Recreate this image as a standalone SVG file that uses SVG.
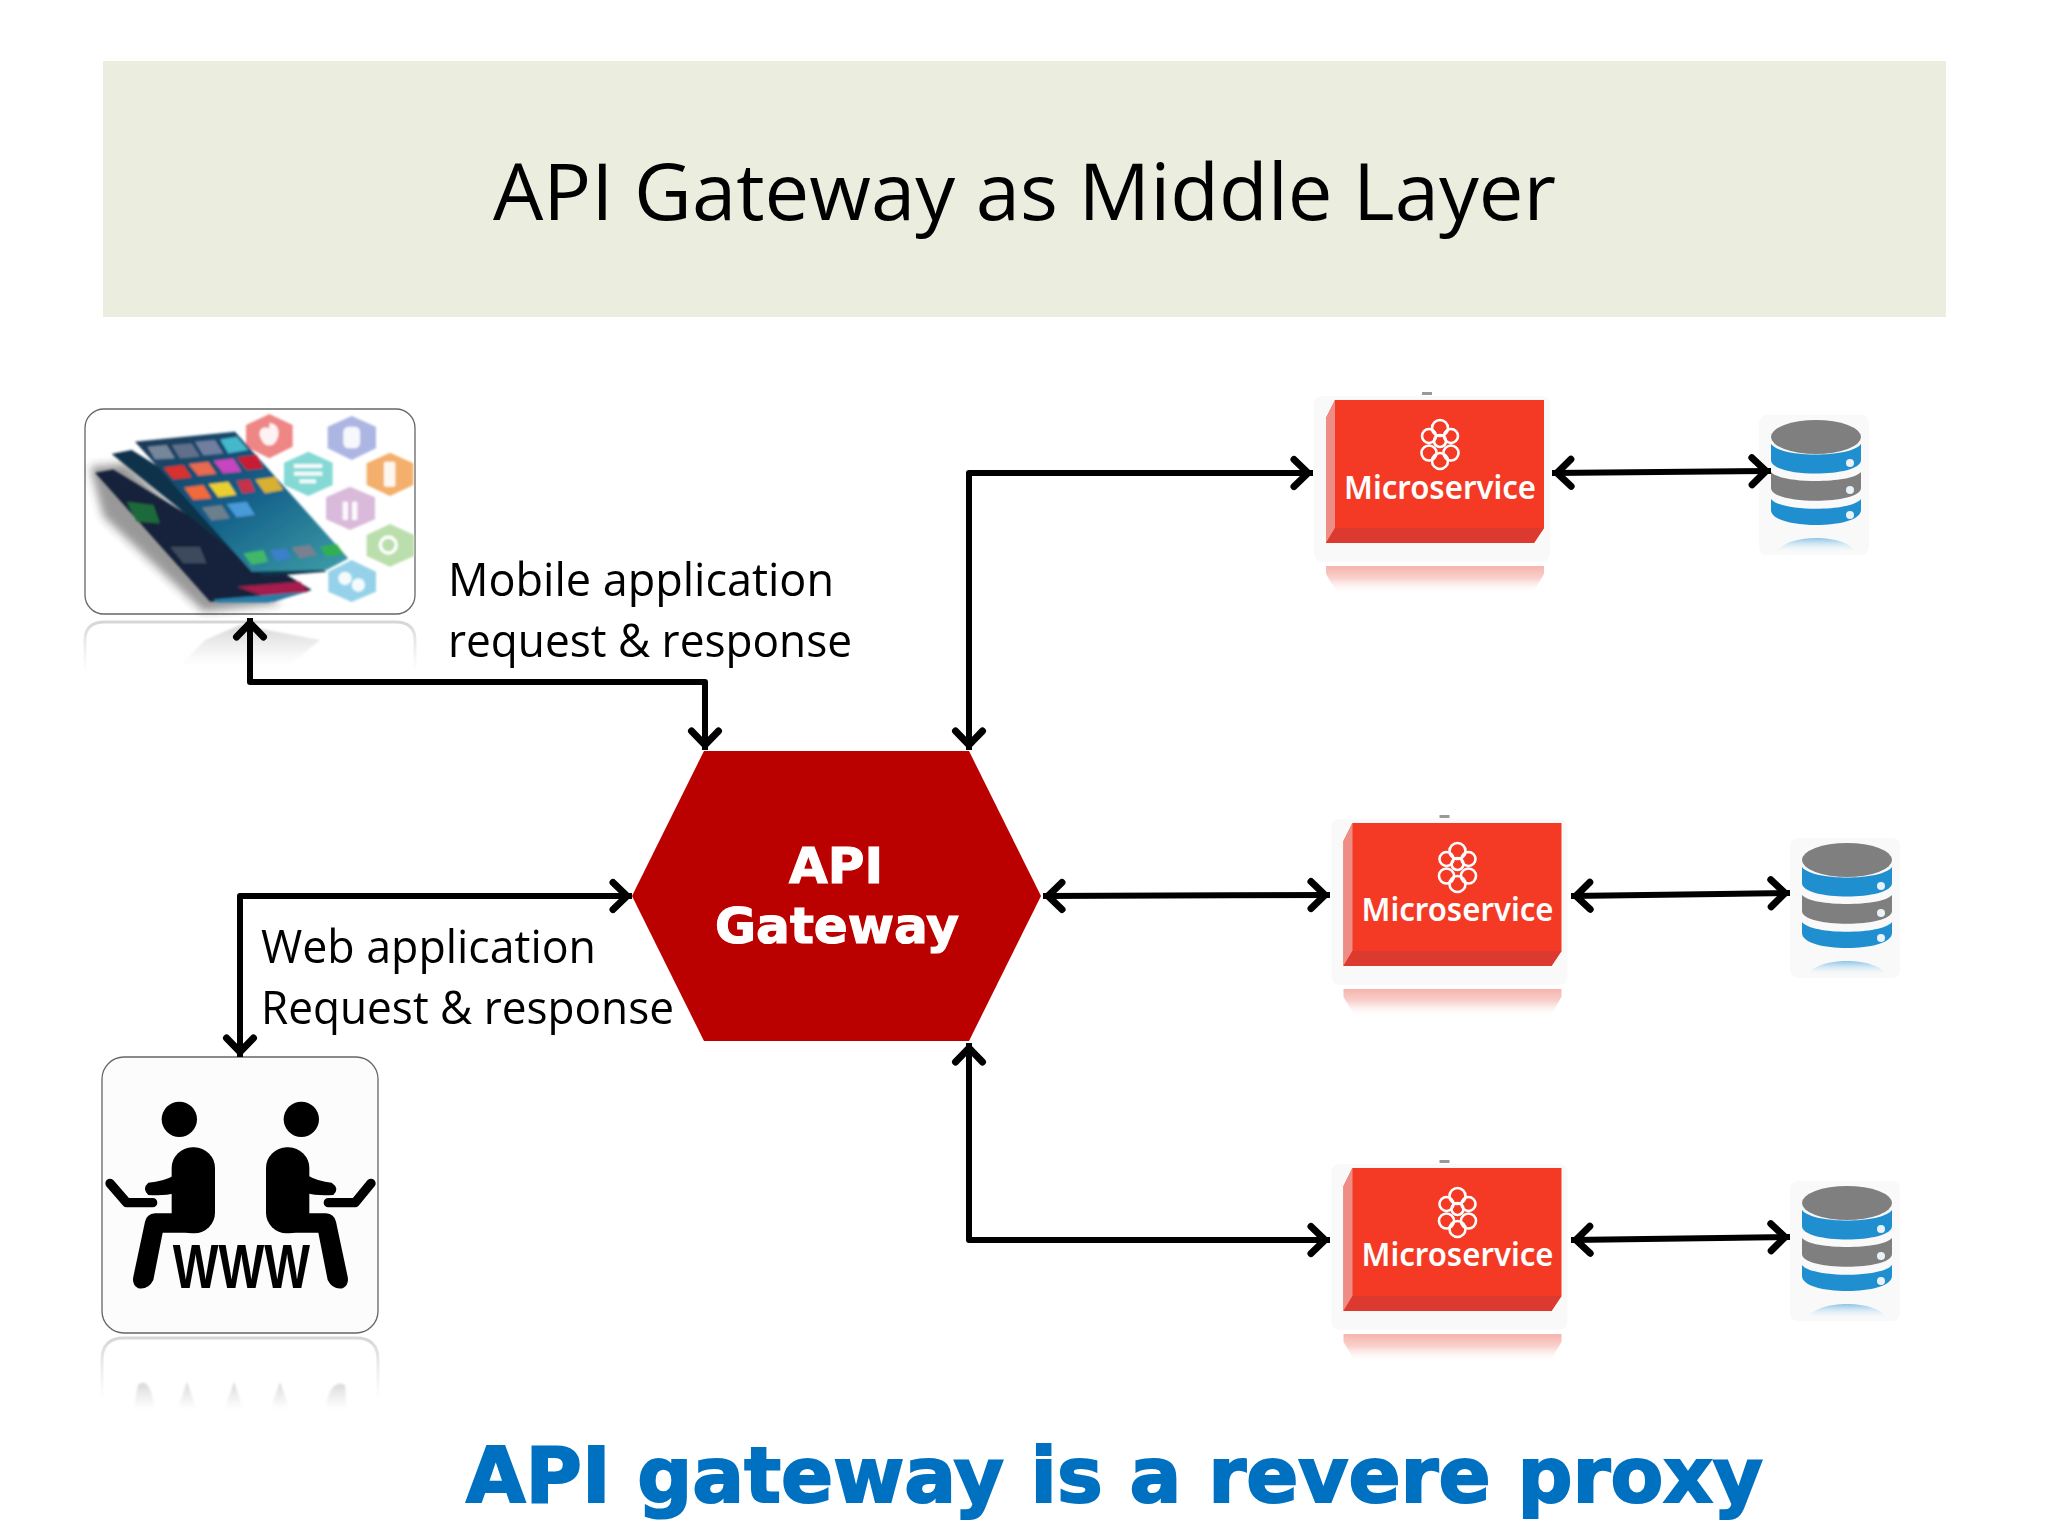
<svg xmlns="http://www.w3.org/2000/svg" width="2048" height="1536" viewBox="0 0 2048 1536">
<style>
.lbl{font-family:"Open Sans","Noto Sans",sans-serif;font-size:45px;fill:#000}
.ms{font-family:"Noto Sans","Open Sans",sans-serif;font-size:32px;font-weight:600;fill:#fff}
.conn{fill:none;stroke:#000;stroke-width:6;stroke-linejoin:round;stroke-linecap:butt;marker-start:url(#ah);marker-end:url(#ah)}
.panel{fill:#f9f9f9}
</style>
<defs>
<marker id="ah" markerUnits="userSpaceOnUse" markerWidth="44" markerHeight="44" refX="33" refY="20" orient="auto-start-reverse" overflow="visible"><path d="M14,6.5 L28,20 L14,33.5" fill="none" stroke="#000" stroke-width="7" stroke-linecap="round" stroke-linejoin="miter"/></marker>
<filter id="b1" x="-20%" y="-20%" width="140%" height="140%"><feGaussianBlur stdDeviation="1"/></filter>
<filter id="b3" x="-10%" y="-10%" width="120%" height="120%"><feGaussianBlur stdDeviation="3"/></filter>
<filter id="b4" x="-30%" y="-30%" width="160%" height="160%"><feGaussianBlur stdDeviation="12"/></filter>
<linearGradient id="fadeGrey" x1="0" y1="0" x2="0" y2="1"><stop offset="0" stop-color="#ccc" stop-opacity=".8"/><stop offset="1" stop-color="#ddd" stop-opacity="0"/></linearGradient>
<linearGradient id="fadeRed" x1="0" y1="0" x2="0" y2="1"><stop offset="0" stop-color="#f7b4ac"/><stop offset=".45" stop-color="#f9d2ce"/><stop offset="1" stop-color="#fff" stop-opacity="0"/></linearGradient>
<linearGradient id="fadeBlue" x1="0" y1="0" x2="0" y2="1"><stop offset="0" stop-color="#8cc4e6"/><stop offset="1" stop-color="#fff" stop-opacity="0"/></linearGradient>
<linearGradient id="screen" x1="0" y1="0" x2="1" y2="1"><stop offset="0" stop-color="#1d3550"/><stop offset=".5" stop-color="#14608a"/><stop offset="1" stop-color="#3f9fa8"/></linearGradient>
<g id="msBox">
<rect class="panel" x="1314" y="396" width="236" height="166" rx="8"/>
<rect x="1422" y="392" width="10" height="3" fill="#999"/>
<path d="M1335,400H1544V528L1534,543H1326V418Z" fill="#f43a24"/>
<path d="M1335,400V528L1326,543V418Z" fill="#ee8d85"/>
<path d="M1335,528H1544L1534,543H1326Z" fill="#dc3a2e"/>
<path d="M1326,566H1544V574L1532,594H1338L1326,574Z" fill="url(#fadeRed)"/>
<g fill="none" stroke="#fff" stroke-width="2.6">
<circle cx="1440" cy="428" r="8"/><circle cx="1429" cy="436" r="7"/><circle cx="1451" cy="436" r="7"/>
<circle cx="1440" cy="441" r="6"/><circle cx="1429" cy="453" r="7.5"/><circle cx="1451" cy="453" r="7.5"/><circle cx="1440" cy="461" r="8"/>
</g>
</g>
<g id="dbIcon">
<rect class="panel" x="1759" y="415" width="110" height="140" rx="8"/>
<path d="M1771,499V510C1771,530 1861,530 1861,510V499C1851,512 1781,512 1771,499Z" fill="#1f8fd0"/>
<path d="M1771,472V488C1771,505 1861,505 1861,488V472C1851,484 1781,484 1771,472Z" fill="#7f7f7f"/>
<path d="M1771,444V460C1771,478 1861,478 1861,460V444C1851,458 1781,458 1771,444Z" fill="#1f8fd0"/>
<ellipse cx="1816" cy="437" rx="45" ry="17" fill="#7f7f7f"/>
<circle cx="1850" cy="463" r="4" fill="#e8f2f8"/><circle cx="1850" cy="490" r="4" fill="#e8f2f8"/><circle cx="1850" cy="515" r="4" fill="#e8f2f8"/>
<path d="M1776,553C1785,533 1847,533 1856,553Z" fill="url(#fadeBlue)"/>
</g>
</defs>
<rect width="2048" height="1536" fill="#fff"/>

<g id="title"><rect x="103" y="61" width="1843" height="256" fill="#ebeddf"/>
<text x="493" y="220" font-family="'Open Sans','Noto Sans',sans-serif" font-size="79" fill="#000" textLength="1063" lengthAdjust="spacingAndGlyphs">API Gateway as Middle Layer</text></g>

<g id="mobile">
<path d="M85,672V640Q85,622 105,622H395Q415,622 415,640V672" fill="none" stroke="url(#fadeGrey)" stroke-width="3"/>
<path d="M180,665L205,640L240,625L320,640L290,665Z" fill="url(#fadeGrey)" filter="url(#b1)"/>
<rect x="85" y="409" width="330" height="205" rx="19" fill="#fff" stroke="#666" stroke-width="1.3"/>
<g transform="translate(60,390) scale(.33333)" filter="url(#b3)">
<g fill-opacity=".95">
<path d="M628,72L698,105V170L628,205L558,170V105Z" fill="#ee7f7f"/>
<path d="M875,78L948,110V175L875,210L803,175V110Z" fill="#a9b2e2"/>
<path d="M745,185L818,218V285L745,318L672,285V218Z" fill="#7dd7d3"/>
<path d="M990,188L1060,220V285L990,318L920,285V220Z" fill="#f2ab62"/>
<path d="M870,290L945,322V388L870,420L798,388V322Z" fill="#d8b6d8"/>
<path d="M990,402L1062,435V498L990,530L920,498V435Z" fill="#b6dca8"/>
<path d="M875,510L948,545V605L875,636L805,605V545Z" fill="#8fd0e8"/>
</g>
<g fill="#fff" fill-opacity=".9">
<path d="M628,100C655,100 662,130 650,150C640,172 615,172 605,150C592,130 600,105 628,115Z"/>
<rect x="850" y="110" width="50" height="65" rx="16"/>
<rect x="702" y="222" width="85" height="12"/><rect x="702" y="245" width="85" height="12"/><rect x="718" y="268" width="50" height="12"/>
<rect x="972" y="215" width="34" height="75" rx="5"/>
<rect x="848" y="335" width="16" height="55"/><rect x="876" y="335" width="16" height="55"/>
<circle cx="985" cy="465" r="24" fill="none" stroke="#fff" stroke-width="10"/>
<circle cx="855" cy="565" r="20"/><circle cx="895" cy="585" r="20"/>
</g>
<path d="M90,230L130,380L430,665L660,640L200,220Z" fill="#444" opacity=".55" filter="url(#b4)"/>
<path d="M105,248L160,238L755,600L640,635L450,635Z" fill="#16233a"/>
<path d="M200,335L280,345L300,400L230,395Z" fill="#1f6a3a"/>
<path d="M330,470L420,470L440,520L370,520Z" fill="#3c4a5c"/>
<path d="M530,590L720,575L745,605L630,625Z" fill="#a51f4d"/>
<path d="M460,628L740,605L625,638L470,638Z" fill="#2a7da8"/>
<path d="M155,192L215,180L800,545L610,560Z" fill="#0f3148"/>
<path d="M225,155L525,125L865,505L800,540L575,545Z" fill="url(#screen)"/>
<path d="M262,170L320,165L345,205L285,208Z" fill="#76879b"/><path d="M335,165L395,160L420,200L360,205Z" fill="#60708a"/>
<path d="M405,155L465,150L490,190L430,196Z" fill="#6f7fa0"/><path d="M480,148L530,140L565,180L505,190Z" fill="#45b8cc"/>
<path d="M310,232L370,225L395,262L340,268Z" fill="#d8332e"/><path d="M385,222L445,215L470,252L415,258Z" fill="#e86a50"/>
<path d="M460,212L520,205L545,245L490,250Z" fill="#c844c0"/><path d="M530,202L590,195L610,235L560,240Z" fill="#c81e32"/>
<path d="M372,292L430,285L455,325L400,330Z" fill="#f06a3a"/><path d="M445,282L505,275L530,315L475,322Z" fill="#e8d030"/>
<path d="M530,272L570,268L585,305L548,310Z" fill="#c8304a"/><path d="M585,268L645,260L670,300L615,310Z" fill="#d8b030"/>
<path d="M425,352L485,345L510,385L455,392Z" fill="#6c7f8c"/><path d="M500,342L560,335L585,375L530,382Z" fill="#4a9ad8"/>
<path d="M550,490L610,480L625,515L575,525Z" fill="#40b868"/><path d="M630,480L680,475L695,505L650,515Z" fill="#3a80c8"/>
<path d="M695,472L750,465L770,495L720,505Z" fill="#7a8090"/><path d="M780,470L830,462L850,490L800,500Z" fill="#30b050"/>
</g>
</g>

<g id="web">
<path d="M102,1400V1360Q102,1338 124,1338H356Q378,1338 378,1360V1400" fill="none" stroke="url(#fadeGrey)" stroke-width="3"/>
<path d="M133,1410L138,1385Q150,1375 155,1410ZM177,1410L187,1382L197,1410ZM224,1410L234,1382L244,1410ZM270,1410L280,1382L290,1410ZM325,1410Q330,1378 345,1385L347,1410Z" fill="url(#fadeGrey)" filter="url(#b1)"/>
<rect x="102" y="1057" width="276" height="276" rx="22" fill="#fcfcfd" stroke="#666" stroke-width="1.3"/>
<g transform="translate(80,1040) scale(.33333)" fill="#000">
<circle cx="298" cy="238" r="53"/><circle cx="664" cy="238" r="53"/>
<rect x="275" y="322" width="130" height="258" rx="62"/><rect x="558" y="322" width="130" height="258" rx="62"/>
<path d="M275,520H340V578H248L220,720Q205,750 175,745Q155,735 160,710L195,545Q200,522 225,520Z"/>
<path d="M688,520H623V578H715L743,720Q758,750 788,745Q808,735 803,710L768,545Q763,522 738,520Z"/>
<path d="M285,405Q250,425 205,428Q185,445 205,465Q255,468 285,460Z"/><path d="M680,405Q715,425 755,428Q780,445 760,465Q710,468 680,460Z"/>
<g fill="none" stroke="#000" stroke-width="28" stroke-linecap="round" stroke-linejoin="round"><path d="M90,430L140,488H218"/><path d="M873,430L825,488H745"/></g>
<text x="278" y="745" font-family="'Liberation Sans',sans-serif" font-weight="bold" font-size="190" textLength="412" lengthAdjust="spacingAndGlyphs">WWW</text>
</g>
</g>

<g id="gateway">
<path d="M632,896L704,751H969L1041,896L969,1041H704Z" fill="#bb0000"/>
<text x="836" y="883" text-anchor="middle" font-family="'DejaVu Sans',sans-serif" font-weight="bold" font-size="50" fill="#fff" stroke="#fff" stroke-width="1.2" textLength="94" lengthAdjust="spacingAndGlyphs">API</text>
<text x="837" y="943" text-anchor="middle" font-family="'DejaVu Sans',sans-serif" font-weight="bold" font-size="50" fill="#fff" stroke="#fff" stroke-width="1.2" textLength="244" lengthAdjust="spacingAndGlyphs">Gateway</text>
</g>

<g id="ms1"><use href="#msBox"/><text class="ms" x="1344" y="499" textLength="192" lengthAdjust="spacingAndGlyphs">Microservice</text></g>
<g id="ms2"><use href="#msBox" transform="translate(17.5,423)"/><text class="ms" x="1361.5" y="921" textLength="192" lengthAdjust="spacingAndGlyphs">Microservice</text></g>
<g id="ms3"><use href="#msBox" transform="translate(17.5,768)"/><text class="ms" x="1361.5" y="1266" textLength="192" lengthAdjust="spacingAndGlyphs">Microservice</text></g>
<g id="db1"><use href="#dbIcon"/></g>
<g id="db2"><use href="#dbIcon" transform="translate(31,423)"/></g>
<g id="db3"><use href="#dbIcon" transform="translate(31,766)"/></g>

<g id="connectors">
<path class="conn" d="M250,618V682H705V750"/>
<path class="conn" d="M969,750V473H1313"/>
<path class="conn" d="M1043,896L1330,895"/>
<path class="conn" d="M632,896H240V1057"/>
<path class="conn" d="M969,1043V1240H1330"/>
<path class="conn" d="M1552,473L1771,471"/>
<path class="conn" d="M1571,896L1790,893"/>
<path class="conn" d="M1571,1240L1790,1237"/>
</g>

<g id="labels">
<text class="lbl" x="448" y="596" textLength="386" lengthAdjust="spacingAndGlyphs">Mobile application</text>
<text class="lbl" x="448" y="657" textLength="404" lengthAdjust="spacingAndGlyphs">request &amp; response</text>
<text class="lbl" x="261" y="963" textLength="335" lengthAdjust="spacingAndGlyphs">Web application</text>
<text class="lbl" x="261" y="1024" textLength="413" lengthAdjust="spacingAndGlyphs">Request &amp; response</text>
</g>
<text id="caption" x="466" y="1502" font-family="'DejaVu Sans',sans-serif" font-weight="bold" font-size="76" fill="#0070c0" stroke="#0070c0" stroke-width="2" textLength="1297" lengthAdjust="spacingAndGlyphs">API gateway is a revere proxy</text>
</svg>
